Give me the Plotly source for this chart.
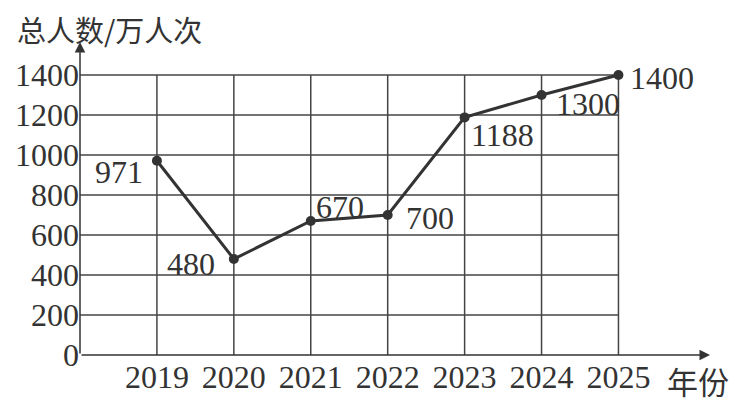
import plotly.graph_objects as go

years = [2019, 2020, 2021, 2022, 2023, 2024, 2025]
visitors = [971, 480, 670, 700, 1188, 1300, 1400]
y_ticks = [0, 200, 400, 600, 800, 1000, 1200, 1400]

# where each value label sits relative to its point (anchor, x shift, y shift in px)
label_style = [('right', -12, -11), ('right', -17, -5), ('left', 3, 14), ('left', 16, -3),
               ('left', 4, -18), ('left', 12, -9), ('left', 10, -3)]

ink = '#333333'
serif = 'Liberation Serif'

fig = go.Figure()
fig.add_trace(go.Scatter(
    x=years, y=visitors, mode='lines+markers',
    line=dict(color=ink, width=3), marker=dict(color=ink, size=10),
    cliponaxis=False, showlegend=False,
))

for yr, v, (anchor, dx, dy) in zip(years, visitors, label_style):
    fig.add_annotation(x=yr, y=v, text=str(v), showarrow=False,
                       xanchor=anchor, yanchor='middle', xshift=dx, yshift=dy,
                       font=dict(family=serif, size=32, color=ink))

# grid, only inside the 2018-2025 / 0-1400 box
x0, x1 = years[0] - 1, years[-1]
x_end, y_end = 2026.19, 1565
for yr in years:
    fig.add_shape(type='line', x0=yr, x1=yr, y0=0, y1=y_ticks[-1],
                  line=dict(color='#444444', width=1.5), layer='below')
for t in y_ticks[1:]:
    fig.add_shape(type='line', x0=x0, x1=x1, y0=t, y1=t,
                  line=dict(color='#444444', width=1.5), layer='below')

# axes with arrows
fig.add_annotation(x=x_end, y=0, ax=x0, ay=0, xref='x', yref='y', axref='x', ayref='y',
                   showarrow=True, arrowhead=2, arrowsize=1.4, arrowwidth=1.5,
                   arrowcolor=ink, text='')
fig.add_annotation(x=x0, y=y_end, ax=x0, ay=0, xref='x', yref='y', axref='x', ayref='y',
                   showarrow=True, arrowhead=2, arrowsize=1.4, arrowwidth=1.5,
                   arrowcolor=ink, text='')

fig.add_annotation(x=-0.103, y=1.0415, xref='paper', yref='paper', text='总人数/万人次',
                   showarrow=False, xanchor='left', yanchor='middle',
                   font=dict(family='Noto Sans CJK SC', size=29, color=ink))
fig.add_annotation(x=0.981, y=-0.08, xref='paper', yref='paper', text='年份',
                   showarrow=False, xanchor='center', yanchor='middle',
                   font=dict(family='Noto Sans CJK SC', size=31, color=ink))

fig.update_xaxes(range=[x0, x_end], tickvals=years, showgrid=False, zeroline=False,
                 showline=False, ticks='', automargin=False,
                 tickfont=dict(family=serif, size=32, color=ink))
fig.update_yaxes(range=[0, y_end], tickvals=y_ticks, showgrid=False, zeroline=False,
                 showline=False, ticks='', automargin=False,
                 tickfont=dict(family=serif, size=32, color=ink))
# the page puts the figure 8px in from the corner, so it is 8px smaller
fig.update_layout(width=738, height=396, margin=dict(l=72, r=36, t=34, b=49),
                  plot_bgcolor='white', paper_bgcolor='white')

fig.write_html('out.html')
